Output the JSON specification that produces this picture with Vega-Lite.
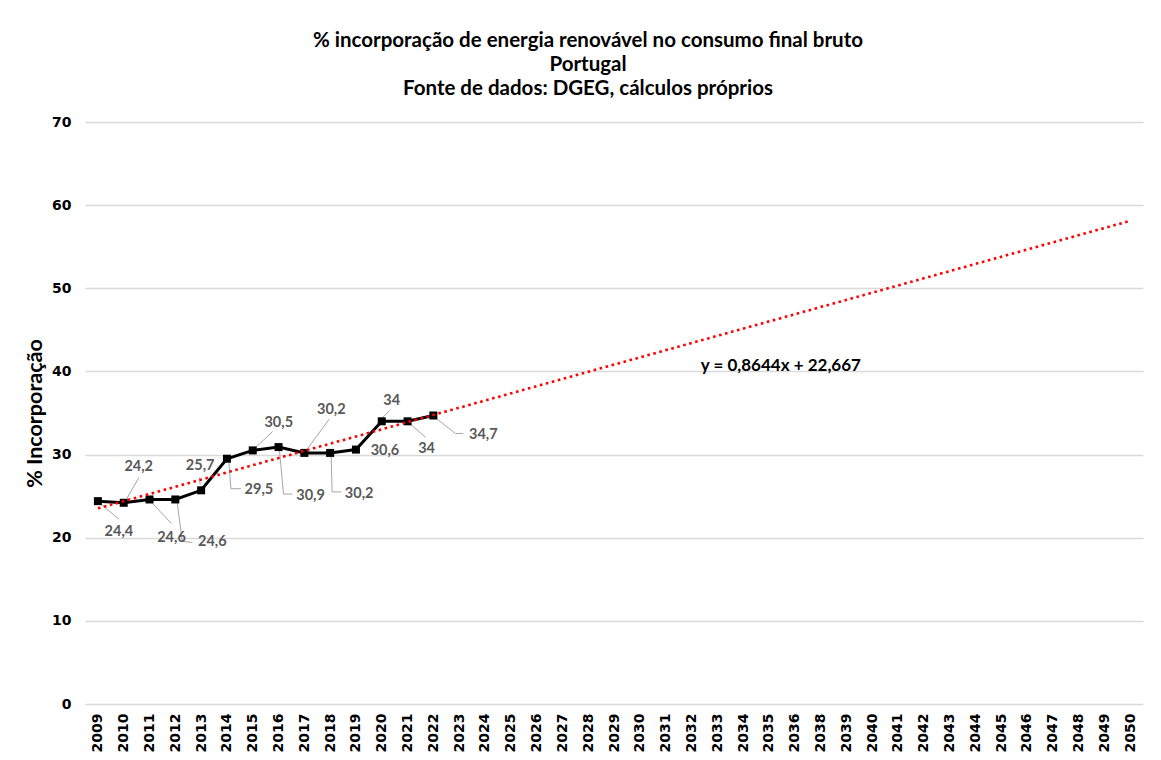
{
  "$schema": "https://vega.github.io/schema/vega-lite/v6.json",
  "width": 1058,
  "height": 582,
  "padding": {"left": 24, "top": 30, "right": 19, "bottom": 0},
  "background": "white",
  "title": {
    "text": ["% incorporação de energia renovável no consumo final bruto", "Portugal", "Fonte de dados: DGEG, cálculos próprios"],
    "font": "Lato",
    "fontSize": 20.5,
    "fontWeight": "bold",
    "color": "#000000",
    "lineHeight": 24,
    "anchor": "middle",
    "frame": "group",
    "dx": -26,
    "offset": 16
  },
  "datasets": {
    "obs": [
      {"year": "2009", "value": 24.4, "label": "24,4"},
      {"year": "2010", "value": 24.2, "label": "24,2"},
      {"year": "2011", "value": 24.6, "label": "24,6"},
      {"year": "2012", "value": 24.6, "label": "24,6"},
      {"year": "2013", "value": 25.7, "label": "25,7"},
      {"year": "2014", "value": 29.5, "label": "29,5"},
      {"year": "2015", "value": 30.5, "label": "30,5"},
      {"year": "2016", "value": 30.9, "label": "30,9"},
      {"year": "2017", "value": 30.2, "label": "30,2"},
      {"year": "2018", "value": 30.2, "label": "30,2"},
      {"year": "2019", "value": 30.6, "label": "30,6"},
      {"year": "2020", "value": 34, "label": "34"},
      {"year": "2021", "value": 34, "label": "34"},
      {"year": "2022", "value": 34.7, "label": "34,7"}
    ],
    "trend": [
      {"year": "2009", "value": 23.53},
      {"year": "2050", "value": 58.11}
    ],
    "eq": [
      {"year": "2035", "value": 40.6, "label": "y = 0,8644x + 22,667"}
    ]
  },
  "encoding": {
    "x": {
      "field": "year",
      "type": "ordinal",
      "scale": {"domain": ["2009","2010","2011","2012","2013","2014","2015","2016","2017","2018","2019","2020","2021","2022","2023","2024","2025","2026","2027","2028","2029","2030","2031","2032","2033","2034","2035","2036","2038","2039","2040","2041","2042","2043","2044","2045","2046","2047","2048","2049","2050"], "type": "point", "padding": 0.5},
      "axis": {
        "title": null,
        "labelAngle": -90,
        "labelFont": "DejaVu Sans",
        "labelFontWeight": "bold",
        "labelFontSize": 14,
        "labelColor": "#000000",
        "labelPadding": 9,
        "ticks": false,
        "domain": false,
        "grid": false
      }
    },
    "y": {
      "field": "value",
      "type": "quantitative",
      "scale": {"domain": [0, 70], "nice": false},
      "axis": {
        "title": "% Incorporação",
        "titleFont": "Lato",
        "titleFontSize": 21.5,
        "titleFontWeight": "bold",
        "titleColor": "#000000",
        "titlePadding": 5,
        "values": [0,10,20,30,40,50,60,70],
        "labelFont": "DejaVu Sans",
        "labelFontWeight": "bold",
        "labelFontSize": 14,
        "labelColor": "#000000",
        "labelPadding": 14,
        "ticks": false,
        "domain": false,
        "grid": true,
        "gridColor": "#D9D9D9",
        "gridWidth": 1.3
      }
    }
  },
  "layer": [
    {"data": {"name": "obs"}, "transform": [{"filter": "datum.year == '2009'"}], "mark": {"type": "rule", "color": "#A6A6A6", "strokeWidth": 1, "xOffset": 4, "yOffset": 4, "x2Offset": 21, "y2Offset": 18}, "encoding": {"x2": {"field": "year"}, "y2": {"field": "value"}}},
    {"data": {"name": "obs"}, "transform": [{"filter": "datum.year == '2010'"}], "mark": {"type": "rule", "color": "#A6A6A6", "strokeWidth": 1, "xOffset": 3, "yOffset": -4, "x2Offset": 15, "y2Offset": -25}, "encoding": {"x2": {"field": "year"}, "y2": {"field": "value"}}},
    {"data": {"name": "obs"}, "transform": [{"filter": "datum.year == '2011'"}], "mark": {"type": "rule", "color": "#A6A6A6", "strokeWidth": 1, "xOffset": 3, "yOffset": 4, "x2Offset": 22, "y2Offset": 24}, "encoding": {"x2": {"field": "year"}, "y2": {"field": "value"}}},
    {"data": {"name": "obs"}, "transform": [{"filter": "datum.year == '2012'"}], "mark": {"type": "rule", "color": "#A6A6A6", "strokeWidth": 1, "xOffset": 2, "yOffset": 4, "x2Offset": 7, "y2Offset": 42}, "encoding": {"x2": {"field": "year"}, "y2": {"field": "value"}}},
    {"data": {"name": "obs"}, "transform": [{"filter": "datum.year == '2012'"}], "mark": {"type": "rule", "color": "#A6A6A6", "strokeWidth": 1, "xOffset": 7, "yOffset": 42, "x2Offset": 17, "y2Offset": 43}, "encoding": {"x2": {"field": "year"}, "y2": {"field": "value"}}},
    {"data": {"name": "obs"}, "transform": [{"filter": "datum.year == '2013'"}], "mark": {"type": "rule", "color": "#A6A6A6", "strokeWidth": 1, "xOffset": -1, "yOffset": -6, "x2Offset": -2, "y2Offset": -13}, "encoding": {"x2": {"field": "year"}, "y2": {"field": "value"}}},
    {"data": {"name": "obs"}, "transform": [{"filter": "datum.year == '2014'"}], "mark": {"type": "rule", "color": "#A6A6A6", "strokeWidth": 1, "xOffset": 2, "yOffset": 4, "x2Offset": 4, "y2Offset": 30}, "encoding": {"x2": {"field": "year"}, "y2": {"field": "value"}}},
    {"data": {"name": "obs"}, "transform": [{"filter": "datum.year == '2014'"}], "mark": {"type": "rule", "color": "#A6A6A6", "strokeWidth": 1, "xOffset": 4, "yOffset": 30, "x2Offset": 14, "y2Offset": 30}, "encoding": {"x2": {"field": "year"}, "y2": {"field": "value"}}},
    {"data": {"name": "obs"}, "transform": [{"filter": "datum.year == '2015'"}], "mark": {"type": "rule", "color": "#A6A6A6", "strokeWidth": 1, "xOffset": 3, "yOffset": -3, "x2Offset": 20, "y2Offset": -19}, "encoding": {"x2": {"field": "year"}, "y2": {"field": "value"}}},
    {"data": {"name": "obs"}, "transform": [{"filter": "datum.year == '2016'"}], "mark": {"type": "rule", "color": "#A6A6A6", "strokeWidth": 1, "xOffset": 1, "yOffset": 4, "x2Offset": 5, "y2Offset": 47}, "encoding": {"x2": {"field": "year"}, "y2": {"field": "value"}}},
    {"data": {"name": "obs"}, "transform": [{"filter": "datum.year == '2016'"}], "mark": {"type": "rule", "color": "#A6A6A6", "strokeWidth": 1, "xOffset": 5, "yOffset": 47, "x2Offset": 14, "y2Offset": 47}, "encoding": {"x2": {"field": "year"}, "y2": {"field": "value"}}},
    {"data": {"name": "obs"}, "transform": [{"filter": "datum.year == '2017'"}], "mark": {"type": "rule", "color": "#A6A6A6", "strokeWidth": 1, "xOffset": 3, "yOffset": -4, "x2Offset": 25, "y2Offset": -34}, "encoding": {"x2": {"field": "year"}, "y2": {"field": "value"}}},
    {"data": {"name": "obs"}, "transform": [{"filter": "datum.year == '2018'"}], "mark": {"type": "rule", "color": "#A6A6A6", "strokeWidth": 1, "xOffset": 1, "yOffset": 4, "x2Offset": 2, "y2Offset": 39}, "encoding": {"x2": {"field": "year"}, "y2": {"field": "value"}}},
    {"data": {"name": "obs"}, "transform": [{"filter": "datum.year == '2018'"}], "mark": {"type": "rule", "color": "#A6A6A6", "strokeWidth": 1, "xOffset": 2, "yOffset": 39, "x2Offset": 11, "y2Offset": 39}, "encoding": {"x2": {"field": "year"}, "y2": {"field": "value"}}},
    {"data": {"name": "obs"}, "transform": [{"filter": "datum.year == '2020'"}], "mark": {"type": "rule", "color": "#A6A6A6", "strokeWidth": 1, "xOffset": 1, "yOffset": -4, "x2Offset": 8, "y2Offset": -11}, "encoding": {"x2": {"field": "year"}, "y2": {"field": "value"}}},
    {"data": {"name": "obs"}, "transform": [{"filter": "datum.year == '2021'"}], "mark": {"type": "rule", "color": "#A6A6A6", "strokeWidth": 1, "xOffset": 3, "yOffset": 3, "x2Offset": 18, "y2Offset": 16}, "encoding": {"x2": {"field": "year"}, "y2": {"field": "value"}}},
    {"data": {"name": "obs"}, "transform": [{"filter": "datum.year == '2022'"}], "mark": {"type": "rule", "color": "#A6A6A6", "strokeWidth": 1, "xOffset": 3, "yOffset": 3, "x2Offset": 22, "y2Offset": 18}, "encoding": {"x2": {"field": "year"}, "y2": {"field": "value"}}},
    {"data": {"name": "obs"}, "transform": [{"filter": "datum.year == '2022'"}], "mark": {"type": "rule", "color": "#A6A6A6", "strokeWidth": 1, "xOffset": 22, "yOffset": 18, "x2Offset": 30, "y2Offset": 18}, "encoding": {"x2": {"field": "year"}, "y2": {"field": "value"}}},
    {
      "data": {"name": "obs"},
      "mark": {"type": "line", "color": "#000000", "strokeWidth": 3, "point": {"shape": "square", "size": 64, "color": "#000000", "filled": true, "opacity": 1}}
    },
    {
      "data": {"name": "trend"},
      "mark": {"type": "line", "color": "#FF0000", "strokeWidth": 2.6, "strokeDash": [2.6, 3.6], "strokeCap": "butt"}
    },
    {"data": {"name": "obs"}, "transform": [{"filter": "datum.year == '2009'"}], "mark": {"type": "text", "font": "Lato", "fontWeight": "bold", "fontSize": 14.5, "color": "#595959", "baseline": "middle", "align": "center", "dx": 21, "dy": 31}, "encoding": {"text": {"field": "label"}}},
    {"data": {"name": "obs"}, "transform": [{"filter": "datum.year == '2010'"}], "mark": {"type": "text", "font": "Lato", "fontWeight": "bold", "fontSize": 14.5, "color": "#595959", "baseline": "middle", "align": "center", "dx": 15, "dy": -36}, "encoding": {"text": {"field": "label"}}},
    {"data": {"name": "obs"}, "transform": [{"filter": "datum.year == '2011'"}], "mark": {"type": "text", "font": "Lato", "fontWeight": "bold", "fontSize": 14.5, "color": "#595959", "baseline": "middle", "align": "center", "dx": 22, "dy": 39}, "encoding": {"text": {"field": "label"}}},
    {"data": {"name": "obs"}, "transform": [{"filter": "datum.year == '2012'"}], "mark": {"type": "text", "font": "Lato", "fontWeight": "bold", "fontSize": 14.5, "color": "#595959", "baseline": "middle", "align": "center", "dx": 37, "dy": 43}, "encoding": {"text": {"field": "label"}}},
    {"data": {"name": "obs"}, "transform": [{"filter": "datum.year == '2013'"}], "mark": {"type": "text", "font": "Lato", "fontWeight": "bold", "fontSize": 14.5, "color": "#595959", "baseline": "middle", "align": "center", "dx": -1, "dy": -24}, "encoding": {"text": {"field": "label"}}},
    {"data": {"name": "obs"}, "transform": [{"filter": "datum.year == '2014'"}], "mark": {"type": "text", "font": "Lato", "fontWeight": "bold", "fontSize": 14.5, "color": "#595959", "baseline": "middle", "align": "center", "dx": 32, "dy": 31}, "encoding": {"text": {"field": "label"}}},
    {"data": {"name": "obs"}, "transform": [{"filter": "datum.year == '2015'"}], "mark": {"type": "text", "font": "Lato", "fontWeight": "bold", "fontSize": 14.5, "color": "#595959", "baseline": "middle", "align": "center", "dx": 26, "dy": -27}, "encoding": {"text": {"field": "label"}}},
    {"data": {"name": "obs"}, "transform": [{"filter": "datum.year == '2016'"}], "mark": {"type": "text", "font": "Lato", "fontWeight": "bold", "fontSize": 14.5, "color": "#595959", "baseline": "middle", "align": "center", "dx": 32, "dy": 49}, "encoding": {"text": {"field": "label"}}},
    {"data": {"name": "obs"}, "transform": [{"filter": "datum.year == '2017'"}], "mark": {"type": "text", "font": "Lato", "fontWeight": "bold", "fontSize": 14.5, "color": "#595959", "baseline": "middle", "align": "center", "dx": 27, "dy": -43}, "encoding": {"text": {"field": "label"}}},
    {"data": {"name": "obs"}, "transform": [{"filter": "datum.year == '2018'"}], "mark": {"type": "text", "font": "Lato", "fontWeight": "bold", "fontSize": 14.5, "color": "#595959", "baseline": "middle", "align": "center", "dx": 29, "dy": 41}, "encoding": {"text": {"field": "label"}}},
    {"data": {"name": "obs"}, "transform": [{"filter": "datum.year == '2019'"}], "mark": {"type": "text", "font": "Lato", "fontWeight": "bold", "fontSize": 14.5, "color": "#595959", "baseline": "middle", "align": "center", "dx": 29, "dy": 1}, "encoding": {"text": {"field": "label"}}},
    {"data": {"name": "obs"}, "transform": [{"filter": "datum.year == '2020'"}], "mark": {"type": "text", "font": "Lato", "fontWeight": "bold", "fontSize": 14.5, "color": "#595959", "baseline": "middle", "align": "center", "dx": 10, "dy": -20}, "encoding": {"text": {"field": "label"}}},
    {"data": {"name": "obs"}, "transform": [{"filter": "datum.year == '2021'"}], "mark": {"type": "text", "font": "Lato", "fontWeight": "bold", "fontSize": 14.5, "color": "#595959", "baseline": "middle", "align": "center", "dx": 19, "dy": 28}, "encoding": {"text": {"field": "label"}}},
    {"data": {"name": "obs"}, "transform": [{"filter": "datum.year == '2022'"}], "mark": {"type": "text", "font": "Lato", "fontWeight": "bold", "fontSize": 14.5, "color": "#595959", "baseline": "middle", "align": "center", "dx": 50, "dy": 20}, "encoding": {"text": {"field": "label"}}},
    {
      "data": {"name": "eq"},
      "mark": {"type": "text", "font": "Lato", "fontWeight": "bold", "fontSize": 17, "color": "#000000", "baseline": "middle", "align": "center", "dx": 12},
      "encoding": {"text": {"field": "label"}}
    }
  ],
  "config": {
    "view": {"stroke": null}
  }
}
